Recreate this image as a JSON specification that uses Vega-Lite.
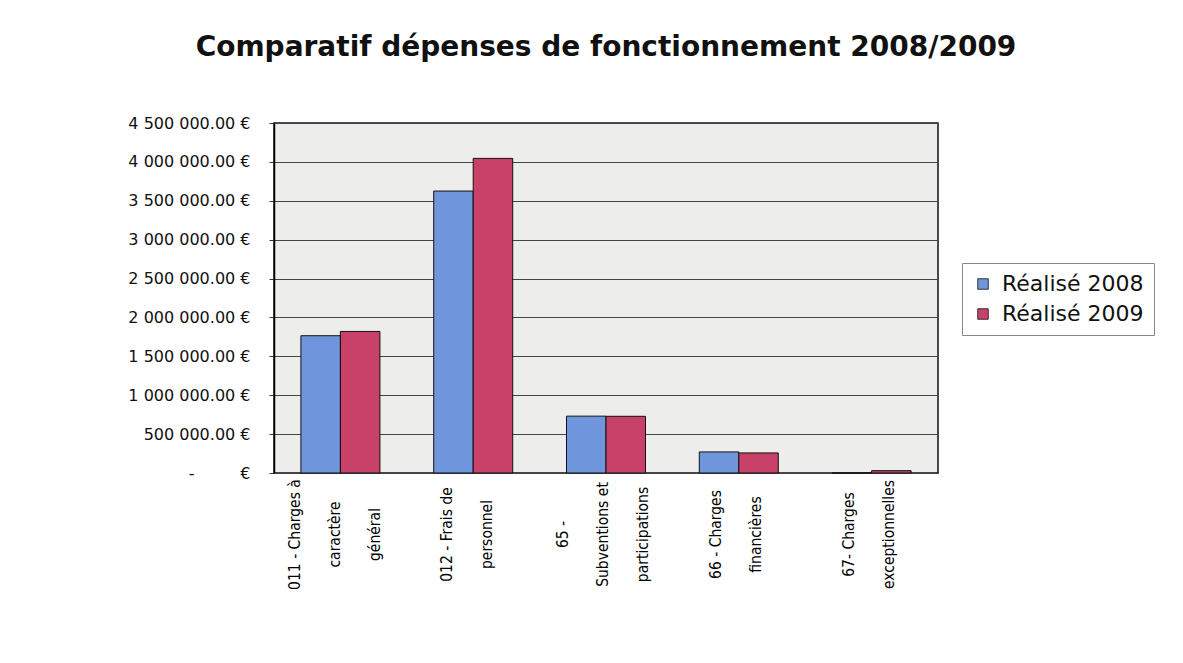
{
  "$schema": "https://vega.github.io/schema/vega-lite/v6.json",
  "autosize": {"type": "none"},
  "width": 664,
  "height": 350,
  "padding": {"left": 274, "top": 123, "right": 245, "bottom": 190},
  "background": "white",
  "title": {
    "text": "Comparatif dépenses de fonctionnement 2008/2009",
    "font": "DejaVu Sans",
    "fontSize": 28,
    "fontWeight": "bold",
    "color": "#111111",
    "anchor": "middle",
    "offset": 53
  },
  "data": {
    "values": [
      {"categorie": "011 - Charges à caractère général", "serie": "Réalisé 2008", "montant": 1765000},
      {"categorie": "011 - Charges à caractère général", "serie": "Réalisé 2009", "montant": 1820000},
      {"categorie": "012 - Frais de personnel", "serie": "Réalisé 2008", "montant": 3625000},
      {"categorie": "012 - Frais de personnel", "serie": "Réalisé 2009", "montant": 4045000},
      {"categorie": "65 - Subventions et participations", "serie": "Réalisé 2008", "montant": 731000},
      {"categorie": "65 - Subventions et participations", "serie": "Réalisé 2009", "montant": 729000},
      {"categorie": "66 - Charges financières", "serie": "Réalisé 2008", "montant": 271000},
      {"categorie": "66 - Charges financières", "serie": "Réalisé 2009", "montant": 258000},
      {"categorie": "67- Charges exceptionnelles", "serie": "Réalisé 2008", "montant": 2000},
      {"categorie": "67- Charges exceptionnelles", "serie": "Réalisé 2009", "montant": 30000}
    ]
  },
  "mark": {"type": "bar", "stroke": "#111111", "strokeWidth": 1},
  "encoding": {
    "x": {
      "field": "categorie",
      "type": "nominal",
      "sort": null,
      "scale": {"paddingInner": 0.405, "paddingOuter": 0.2025},
      "axis": {
        "title": null,
        "ticks": false,
        "domain": false,
        "labelAngle": 270,
        "labelAlign": "center",
        "labelBaseline": "middle",
        "labelPadding": 61,
        "labelOffset": {
          "condition": [
            {"test": "datum.value == '011 - Charges à caractère général'", "value": -45},
            {"test": "datum.value == '65 - Subventions et participations'", "value": -43},
            {"test": "datum.value == '012 - Frais de personnel'", "value": -26}
          ],
          "value": -23
        },
        "labelLineHeight": 40,
        "labelLimit": 400,
        "labelFont": "Liberation Sans Narrow, DejaVu Sans Condensed, Liberation Sans",
        "labelFontSize": 15.5,
        "labelColor": "#000000",
        "labelExpr": "datum.value == '011 - Charges à caractère général' ? ['011 - Charges à', 'caractère', 'général'] : datum.value == '012 - Frais de personnel' ? ['012 - Frais de', 'personnel'] : datum.value == '65 - Subventions et participations' ? ['65 -', 'Subventions et', 'participations'] : datum.value == '66 - Charges financières' ? ['66 - Charges', 'financières'] : ['67- Charges', 'exceptionnelles']"
      }
    },
    "xOffset": {"field": "serie", "type": "nominal", "scale": {"paddingInner": 0, "paddingOuter": 0}},
    "y": {
      "field": "montant",
      "type": "quantitative",
      "scale": {"domain": [0, 4500000], "nice": false},
      "axis": {
        "title": null,
        "values": [0, 500000, 1000000, 1500000, 2000000, 2500000, 3000000, 3500000, 4000000, 4500000],
        "grid": true,
        "gridColor": "#444444",
        "gridWidth": 1,
        "gridOpacity": 1,
        "domainColor": "#000000",
        "domainWidth": 1.5,
        "tickColor": "#333333",
        "tickSize": 5,
        "labelPadding": 19,
        "labelFont": "DejaVu Sans",
        "labelFontSize": 16,
        "labelColor": "#111111",
        "labelExpr": "datum.value == 0 ? '-\u00a0\u00a0\u00a0\u00a0\u00a0\u00a0\u00a0\u00a0\u00a0€' : replace(format(datum.value, ',.2f'), regexp(',', 'g'), '\u00a0') + '\u00a0€'"
      }
    },
    "color": {
      "field": "serie",
      "type": "nominal",
      "scale": {"domain": ["Réalisé 2008", "Réalisé 2009"], "range": ["#6f96dc", "#c84169"]},
      "legend": {
        "title": null,
        "orient": "none",
        "legendX": 688,
        "legendY": 140,
        "padding": 10,
        "strokeColor": "#888888",
        "fillColor": "#ffffff",
        "symbolType": "square",
        "symbolSize": 110,
        "symbolStrokeColor": "#333333",
        "symbolStrokeWidth": 1,
        "labelFont": "DejaVu Sans",
        "labelFontSize": 22,
        "labelColor": "#111111",
        "rowPadding": 8,
        "labelOffset": 8
      }
    }
  },
  "config": {
    "view": {"stroke": "#111111", "strokeWidth": 1.5, "fill": "#ededeb"}
  }
}
